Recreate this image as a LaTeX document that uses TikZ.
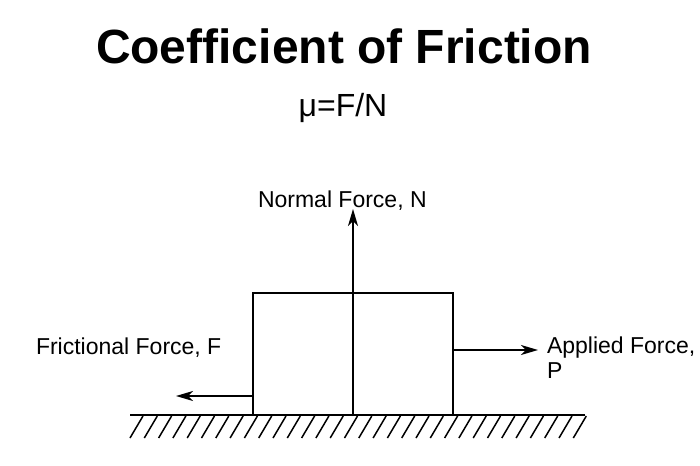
\documentclass[tikz,border=0pt]{standalone}
\usepackage{fontspec}
\setmainfont{Liberation Sans}
\usetikzlibrary{positioning,arrows.meta}

\tikzset{
  lbl/.style={font=\fontsize{23}{25}\selectfont, inner sep=0},
  force/.style={-{Stealth[length=17pt,width=10pt,inset=5pt]}, line width=1.8pt},
}

\begin{document}
\begin{tikzpicture}[x=1pt, y=-1pt, line width=2pt]
  \useasboundingbox (0,0) rectangle (700,465);

  % title
  \node[font=\fontsize{48}{56}\selectfont\bfseries, anchor=base, inner sep=0] (title) at (344,64) {Coefficient of Friction};
  \node[font=\fontsize{32}{38}\selectfont, anchor=base, inner sep=0] (mu) at (343,117) {μ=F/N};

  % nodes
  \node[draw, minimum width=200pt, minimum height=122pt, inner sep=0, line width=2pt] (block) at (353,354) {};
  \coordinate (gl) at (130,415);
  \coordinate (gr) at (585,415);
  \coordinate (ntip) at (353,209);
  \coordinate (ftip) at (176,396);
  \coordinate (ptip) at (538,350);
  \node[lbl, anchor=base west] (nlabel) at (257,207) {Normal Force, N};
  \node[lbl, anchor=base west] (flabel) at (35,354) {Frictional Force, F};
  \node[lbl, anchor=north west, align=left] (plabel) at (546,336) {Applied Force,\\P};

  % ground
  \draw[line width=2.4pt] (gl) -- (gr);
  \foreach \x in {130,144.3,...,576}
    \draw[line width=1.5pt] (\x,438) -- ++(13,-22);

  % edges
  \draw[force] (block.south) -- (ntip);
  \draw[force] (block.west |- ftip) -- (ftip);
  \draw[force] (block.east |- ptip) -- (ptip);
\end{tikzpicture}
\end{document}
